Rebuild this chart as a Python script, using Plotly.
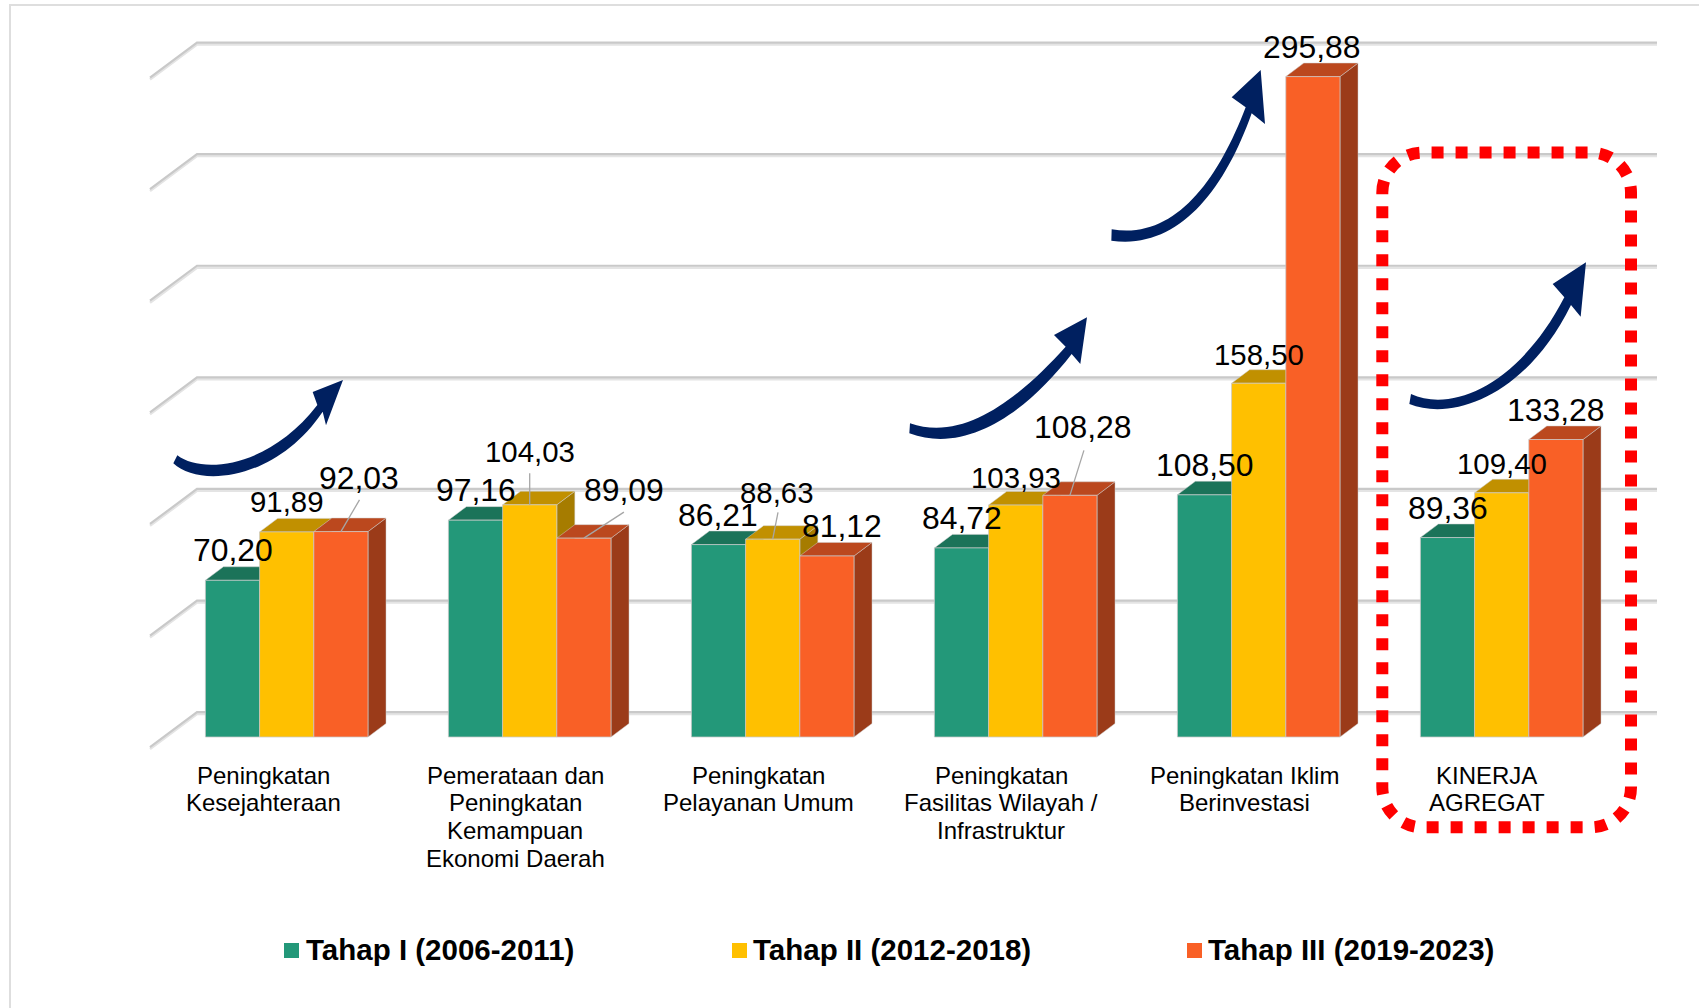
import plotly.graph_objects as go

# ---------- data ----------
CATEGORIES = [
    ["Peningkatan", "Kesejahteraan"],
    ["Pemerataan dan", "Peningkatan", "Kemampuan", "Ekonomi Daerah"],
    ["Peningkatan", "Pelayanan Umum"],
    ["Peningkatan", "Fasilitas Wilayah /", "Infrastruktur"],
    ["Peningkatan Iklim", "Berinvestasi"],
    ["KINERJA", "AGREGAT"],
]
SERIES_NAMES = ["Tahap I (2006-2011)", "Tahap II (2012-2018)", "Tahap III (2019-2023)"]
TAHAP_1 = [70.20, 97.16, 86.21, 84.72, 108.50, 89.36]
TAHAP_2 = [91.89, 104.03, 88.63, 103.93, 158.50, 109.40]
TAHAP_3 = [92.03, 89.09, 81.12, 108.28, 295.88, 133.28]
GRID_VALUES = [0, 50, 100, 150, 200, 250, 300]

# ---------- styles ----------
FRONT = ["#239879", "#FFC000", "#F96026"]
TOP = ["#1B7359", "#C19000", "#BB481E"]
SIDE = ["#1A6B53", "#A67C00", "#9B3B19"]
FONT = "Liberation Sans"
LABEL_SIZE = [31.9, 29.4, 31.9]

W, H = 1699, 1008
GROUP_PX = 243.0          # pixels per category
UNIT_PX = 2.232           # pixels per value unit
X0_PX, Y0_PX = 286.7, 737 # pixel of category 0 / value 0
BAR_W = 54.2 / GROUP_PX
DX = 18 / GROUP_PX        # depth of a bar
DY = 13.5 / UNIT_PX

# label offsets from bar top, px (dx, up) per category and series
LABEL_DX = [[0.5, 0, 18.5], [0.5, 0.5, 40], [-1, 4.6, 14.6], [0, 0, 13], [0, 0, -1], [0, 0, 0]]
LABEL_UP = [[30, 30, 54], [30, 53, 48], [30, 47, 30], [30, 28, 68], [30, 29, 30], [30, 29, 30]]
# leader lines: category, series, dx, up (px)
LEADERS = [(0, 2, 18.6, 31.7), (1, 1, 0, 31.6), (1, 2, 40, 26), (2, 1, 5.3, 26.7), (3, 2, 14, 45)]
CAT_LABEL_DX = [-23.7, -14.7, -14.2, -14.7, -14.7, -15]
CAT_LINE_Y = [775.5, 802.6, 830.5, 858]
LEGEND_SQUARE_X = [284, 732, 1187]
LEGEND_TEXT_X = [304, 751, 1205.6]

SERIES = [TAHAP_1, TAHAP_2, TAHAP_3]


def px(x):
    return x / W


def py(y):
    return 1 - y / H


def pt(p):
    return f"{px(p[0]):.5f},{py(p[1]):.5f}"


fig = go.Figure()
for name, vals, col in zip(SERIES_NAMES, SERIES, FRONT):
    fig.add_trace(go.Bar(
        x=list(range(len(vals))), y=vals, name=name, showlegend=False,
        marker=dict(color=col, line=dict(color="rgba(200,200,200,0.75)", width=1)),
    ))

shapes = []

# image frame
shapes.append(dict(type="path", xref="paper", yref="paper", layer="below",
                   path=f"M{px(10)},0 L{px(10)},{py(5)} L1,{py(5)}",
                   line=dict(color="#DEDEDE", width=2)))

# back wall grid lines with their left-hand floor diagonals
gx_back = (197 - X0_PX) / GROUP_PX
gx_front = (150 - X0_PX) / GROUP_PX
gx_right = (1657 - X0_PX) / GROUP_PX
back_up = (Y0_PX - 712.7) / UNIT_PX
diag = 35 / UNIT_PX
for v in GRID_VALUES:
    y = v + back_up
    for off, c, w in [(-0.6, "#E4E4E4", 2.5), (0.25, "#C9C9C9", 2.2)]:
        shapes.append(dict(type="path", xref="x", yref="y", layer="below",
                           path=f"M{gx_front},{y - diag + off} L{gx_back},{y + off} L{gx_right},{y + off}",
                           line=dict(color=c, width=w)))

# bar depth faces, left to right
for g in range(len(CATEGORIES)):
    for s, vals in enumerate(SERIES):
        v = vals[g]
        l = g - 1.5 * BAR_W + s * BAR_W
        r = l + BAR_W
        edge = dict(color="rgba(205,205,205,0.6)", width=0.8)
        shapes.append(dict(type="path", xref="x", yref="y", layer="below", fillcolor=SIDE[s], line=edge,
                           path=f"M{r},0 L{r},{v} L{r + DX},{v + DY} L{r + DX},{DY} Z"))
        shapes.append(dict(type="path", xref="x", yref="y", layer="below", fillcolor=TOP[s], line=edge,
                           path=f"M{l},{v} L{r},{v} L{r + DX},{v + DY} L{l + DX},{v + DY} Z"))

# leader lines
for g, s, dx, up in LEADERS:
    xc = g + (s - 1) * BAR_W
    v = SERIES[s][g]
    shapes.append(dict(type="line", xref="x", yref="y", x0=xc, y0=v,
                       x1=xc + dx / GROUP_PX, y1=v + up / UNIT_PX,
                       line=dict(color="#A6A6A6", width=1.3)))

# red dotted frame
L, R, T, B, RAD = 1382.3, 1631, 152.6, 827.3, 40
K = RAD * 0.5523
frame = (
    f"M{pt((L, T + RAD))} C{pt((L, T + RAD - K))} {pt((L + RAD - K, T))} {pt((L + RAD, T))} "
    f"L{pt((R - RAD, T))} C{pt((R - RAD + K, T))} {pt((R, T + RAD - K))} {pt((R, T + RAD))} "
    f"L{pt((R, B - RAD))} C{pt((R, B - RAD + K))} {pt((R - RAD + K, B))} {pt((R - RAD, B))} "
    f"L{pt((L + RAD, B))} C{pt((L + RAD - K, B))} {pt((L, B - RAD + K))} {pt((L, B - RAD))} Z"
)
shapes.append(dict(type="path", xref="paper", yref="paper", path=frame,
                   line=dict(color="#FF0000", width=12, dash="12px,12px")))

# curved arrows: zoom-crop origin, tail up, tail low, upper ctrl x2, shaft up, lower ctrl x2, shaft low, head points
ARROWS = [
    ((160, 360), (52, 286), (40, 310), (130, 345), (330, 320), (472, 135), (120, 385), (350, 360), (488, 155),
     (458, 96), (549, 60), (498, 196)),
    ((880, 50), (90, 1120), (88, 1150), (260, 1180), (430, 1030), (557, 890), (265, 1215), (445, 1080), (575, 912),
     (522, 855), (621, 802), (601, 942)),
    ((880, 50), (695, 538), (694, 572), (880, 570), (1010, 400), (1097, 172), (890, 600), (1030, 430), (1115, 190),
     (1055, 142), (1142, 60), (1155, 222)),
    ((1340, 240), (213, 462), (208, 492), (340, 520), (540, 430), (673, 172), (340, 545), (560, 465), (693, 195),
     (638, 132), (738, 67), (722, 230)),
]
for a in ARROWS:
    o = a[0]
    u0, l0, c1, c2, u3, d1, d2, l3, hl, tip, hr = [(o[0] + p[0] / 3, o[1] + p[1] / 3) for p in a[1:]]
    path = (f"M{pt(u0)} C{pt(c1)} {pt(c2)} {pt(u3)} L{pt(hl)} L{pt(tip)} L{pt(hr)} L{pt(l3)} "
            f"C{pt(d2)} {pt(d1)} {pt(l0)} Z")
    shapes.append(dict(type="path", xref="paper", yref="paper", path=path,
                       fillcolor="#002060", line=dict(width=0)))

# legend squares
for sx, col in zip(LEGEND_SQUARE_X, FRONT):
    shapes.append(dict(type="rect", xref="paper", yref="paper",
                       x0=px(sx), x1=px(sx + 15), y0=py(958), y1=py(943),
                       fillcolor=col, line=dict(width=0)))

annotations = []
# value labels
for g in range(len(CATEGORIES)):
    for s, vals in enumerate(SERIES):
        annotations.append(dict(
            xref="x", yref="y", x=g + (s - 1) * BAR_W, y=vals[g],
            xshift=LABEL_DX[g][s], yshift=LABEL_UP[g][s],
            text=f"{vals[g]:.2f}".replace(".", ","), showarrow=False,
            xanchor="center", yanchor="middle",
            font=dict(family=FONT, size=LABEL_SIZE[s], color="#000000"),
        ))
# category labels, one annotation per line
for g, lines in enumerate(CATEGORIES):
    for ly, line in zip(CAT_LINE_Y, lines):
        annotations.append(dict(
            xref="x", yref="paper", x=g, y=py(ly), xshift=CAT_LABEL_DX[g],
            text=line, showarrow=False, xanchor="center", yanchor="middle",
            font=dict(family=FONT, size=24, color="#000000"),
        ))
# legend text
for tx, name in zip(LEGEND_TEXT_X, SERIES_NAMES):
    annotations.append(dict(
        xref="paper", yref="paper", x=px(tx), y=py(949.5), text=f"<b>{name}</b>",
        showarrow=False, xanchor="left", yanchor="middle",
        font=dict(family=FONT, size=29.5, color="#000000"),
    ))

fig.update_layout(
    width=W, height=H, margin=dict(l=0, r=0, t=0, b=0),
    paper_bgcolor="#FFFFFF", plot_bgcolor="rgba(0,0,0,0)",
    barmode="group", bargap=1 - 3 * BAR_W, bargroupgap=0,
    showlegend=False, shapes=shapes, annotations=annotations,
    xaxis=dict(visible=False, range=[-X0_PX / GROUP_PX, (W - X0_PX) / GROUP_PX], fixedrange=True),
    yaxis=dict(visible=False, range=[-(H - Y0_PX) / UNIT_PX, Y0_PX / UNIT_PX], fixedrange=True),
)

fig.write_html("out.html", config={"displayModeBar": False},
               post_script="document.body.style.margin='0';document.body.style.overflow='hidden';")
